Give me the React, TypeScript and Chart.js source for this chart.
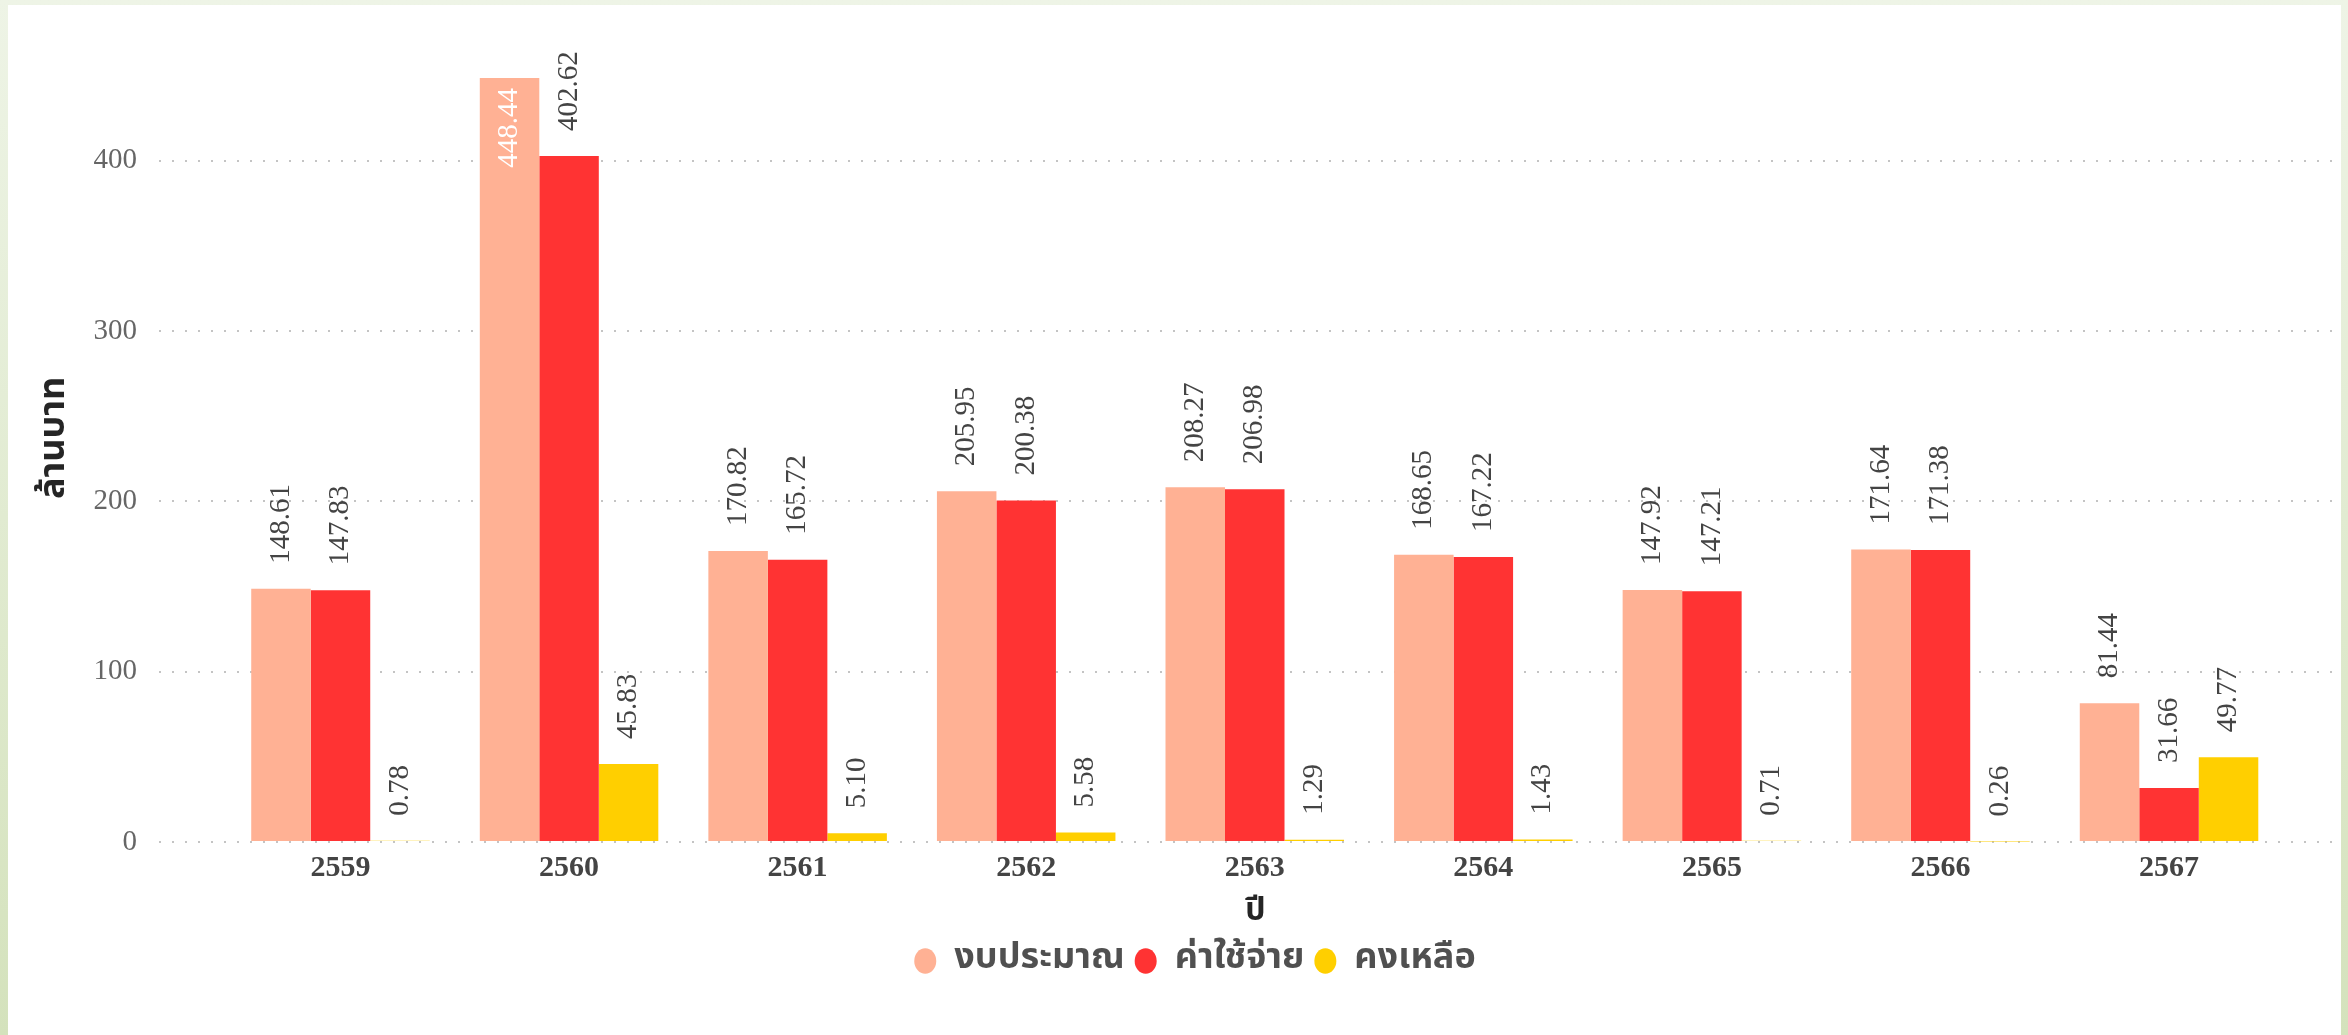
import React, { useEffect, useRef } from "react";
import { Chart, registerables } from "chart.js";

Chart.register(...registerables);

// ---- data ----
const years = ["2559", "2560", "2561", "2562", "2563", "2564", "2565", "2566", "2567"];
const budget = [148.61, 448.44, 170.82, 205.95, 208.27, 168.65, 147.92, 171.64, 81.44];
const expense = [147.83, 402.62, 165.72, 200.38, 206.98, 167.22, 147.21, 171.38, 31.66];
const remaining = [0.78, 45.83, 5.1, 5.58, 1.29, 1.43, 0.71, 0.26, 49.77];
const seriesNames = ["งบประมาณ", "ค่าใช้จ่าย", "คงเหลือ"];
const seriesColors = ["#FFB194", "#FF3333", "#FFCF00"];
const yTickStep = 100;
const yTitle = "ล้านบาท";
const xTitle = "ปี";

const SERIF = "'Liberation Serif', 'Times New Roman', Times, serif";
const THAI = "Tahoma, 'Noto Sans Thai', 'Leelawadee UI', 'DejaVu Sans', sans-serif";

const valueLabels = {
  id: "valueLabels",
  afterDatasetsDraw(chart: any) {
    const ctx = chart.ctx;
    ctx.save();
    ctx.font = `29px ${SERIF}`;
    chart.data.datasets.forEach((ds: any, di: number) => {
      const meta = chart.getDatasetMeta(di);
      meta.data.forEach((bar: any, i: number) => {
        const v = ds.data[i].y as number;
        const text = v.toFixed(2);
        const w = ctx.measureText(text).width;
        ctx.save();
        ctx.translate(bar.x, bar.y);
        ctx.rotate(-Math.PI / 2);
        ctx.textBaseline = "middle";
        if (bar.y - 25 - w < 0) {
          ctx.textAlign = "right";
          ctx.fillStyle = "#ffffff";
          ctx.fillText(text, -10, 0);
        } else {
          ctx.textAlign = "left";
          ctx.fillStyle = "#444444";
          ctx.fillText(text, 25, 0);
        }
        ctx.restore();
      });
    });
    ctx.restore();
  },
};

const axisTitles = {
  id: "axisTitles",
  afterDraw(chart: any) {
    const ctx = chart.ctx;
    const area = chart.chartArea;
    ctx.save();
    ctx.fillStyle = "#252525";
    ctx.textAlign = "center";
    ctx.textBaseline = "middle";
    // y title
    ctx.save();
    ctx.translate(area.left - 102, (area.top + area.bottom) / 2 - 22);
    ctx.rotate(-Math.PI / 2);
    ctx.font = `bold 36px ${THAI}`;
    ctx.fillText(yTitle, 0, 0);
    ctx.restore();
    // x title
    ctx.font = `bold 32px ${THAI}`;
    ctx.fillText(xTitle, (area.left + area.right) / 2 + 6, area.bottom + 72);
    ctx.restore();
  },
};

export default function App() {
  const ref = useRef<HTMLCanvasElement>(null);

  useEffect(() => {
    const series = [budget, expense, remaining];
    const allValues = [...budget, ...expense, ...remaining];
    const chart = new Chart(ref.current as HTMLCanvasElement, {
      type: "bar",
      data: {
        datasets: series.map((vals, si) => ({
          label: seriesNames[si],
          data: vals.map((v, i) => ({ x: i, y: v })),
          backgroundColor: seriesColors[si],
          borderWidth: 0,
          categoryPercentage: 0.781,
          barPercentage: 1.0,
        })),
      },
      options: {
        animation: false,
        responsive: false,
        devicePixelRatio: 1,
        layout: { padding: { left: 42, right: 1, top: 73, bottom: 46 } },
        plugins: {
          tooltip: { enabled: false },
          legend: {
            position: "bottom",
            labels: {
              usePointStyle: true,
              pointStyle: "circle",
              pointStyleWidth: 22,
              boxHeight: 18,
              padding: 10,
              color: "#505050",
              font: { family: THAI, size: 36, weight: "bold" },
            },
          },
        },
        scales: {
          x: {
            type: "linear",
            offset: false,
            min: -0.794,
            max: years.length - 1 + 0.748,
            grid: { display: false, drawTicks: false, offset: false },
            border: { display: false },
            ticks: {
              stepSize: 1,
              includeBounds: false,
              autoSkip: false,
              maxRotation: 0,
              padding: 8,
              color: "#444444",
              font: { family: SERIF, size: 30, weight: "bold" },
              callback: (v: any) => (years[v as number] !== undefined ? years[v as number] : ""),
            },
            afterFit: (s: any) => {
              s.height = 91;
            },
          },
          y: {
            min: 0,
            max: Math.max(...allValues),
            grid: { color: "#c4c4c4", lineWidth: 2, drawTicks: false },
            border: { display: false, dash: [2, 11] },
            ticks: {
              stepSize: yTickStep,
              includeBounds: false,
              padding: 22,
              color: "#666666",
              font: { family: SERIF, size: 29 },
            },
            afterFit: (s: any) => {
              s.width = 109;
            },
          },
        },
      } as any,
      plugins: [valueLabels, axisTitles],
    });
    return () => chart.destroy();
  }, []);

  return (
    <div
      style={{
        position: "fixed",
        left: 0,
        top: 0,
        width: 2348,
        height: 1035,
        overflow: "hidden",
        background: "linear-gradient(#eef4e6, #d4e2bc)",
      }}
    >
      <div style={{ position: "absolute", left: 8, top: 5, width: 2333, height: 1030, background: "#ffffff" }}>
        <canvas ref={ref} width={2333} height={1030} style={{ display: "block", width: 2333, height: 1030 }} />
      </div>
    </div>
  );
}
